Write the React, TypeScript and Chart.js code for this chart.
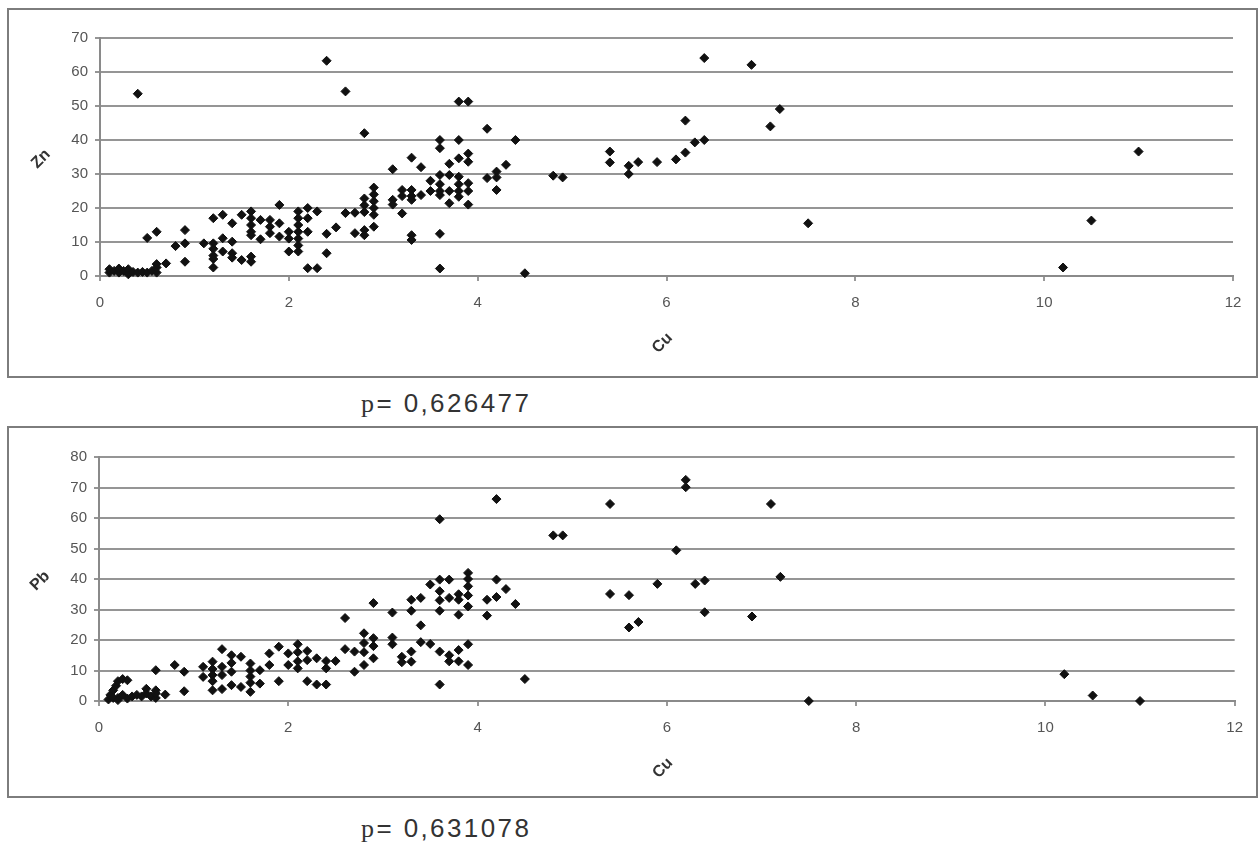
import React, { useEffect, useRef } from "react";
import { Chart, registerables } from "chart.js";

Chart.register(...registerables);

// ---- data ----
const xTickValues = [0, 2, 4, 6, 8, 10, 12];
const znTickValues = [0, 10, 20, 30, 40, 50, 60, 70];
const pbTickValues = [0, 10, 20, 30, 40, 50, 60, 70, 80];

const cuZn: [number, number][] = [
  [0.1, 1], [0.1, 2], [0.15, 1.5], [0.2, 1], [0.2, 2.2], [0.25, 1.5], [0.3, 0.5], [0.3, 2], [0.35, 1.2], [0.4, 1], [0.45, 1.2], [0.5, 1], [0.55, 1.5], [0.6, 1], [0.6, 2.5], [0.6, 3.5],
  [0.4, 53.6], [0.5, 11.2], [0.6, 13], [0.7, 3.7], [0.8, 8.8], [0.9, 13.5], [0.9, 9.6], [0.9, 4.2],
  [1.1, 9.6], [1.2, 17], [1.2, 9.6], [1.2, 8], [1.2, 6], [1.2, 5], [1.2, 2.5],
  [1.3, 18], [1.3, 11.1], [1.3, 7.2],
  [1.4, 15.5], [1.4, 10.1], [1.4, 6.7], [1.4, 5.4],
  [1.5, 18], [1.5, 4.7],
  [1.6, 19], [1.6, 17], [1.6, 15], [1.6, 13], [1.6, 12], [1.6, 5.7], [1.6, 4.2],
  [1.7, 16.5], [1.7, 10.8],
  [1.8, 16.5], [1.8, 14.5], [1.8, 12.6],
  [1.9, 20.9], [1.9, 15.5], [1.9, 11.6],
  [2.0, 13], [2.0, 11], [2.0, 7.2],
  [2.1, 19], [2.1, 17], [2.1, 15], [2.1, 13], [2.1, 11], [2.1, 9], [2.1, 7.2],
  [2.2, 20], [2.2, 17], [2.2, 13], [2.2, 2.3],
  [2.3, 19], [2.3, 2.3],
  [2.4, 63.3], [2.4, 12.4], [2.4, 6.7],
  [2.5, 14.3],
  [2.6, 54.3], [2.6, 18.5],
  [2.7, 18.6], [2.7, 12.6],
  [2.8, 42], [2.8, 22.8], [2.8, 20.8], [2.8, 18.8], [2.8, 13.5], [2.8, 12],
  [2.9, 26], [2.9, 24], [2.9, 22], [2.9, 20], [2.9, 18], [2.9, 14.5],
  [3.1, 31.4], [3.1, 22.4], [3.1, 21],
  [3.2, 25.3], [3.2, 23.5], [3.2, 18.4],
  [3.3, 34.8], [3.3, 25.3], [3.3, 23.5], [3.3, 22.4], [3.3, 12], [3.3, 10.6],
  [3.4, 32], [3.4, 23.8],
  [3.5, 28], [3.5, 25],
  [3.6, 40], [3.6, 37.6], [3.6, 29.7], [3.6, 27], [3.6, 25], [3.6, 23.8], [3.6, 12.4], [3.6, 2.2],
  [3.7, 33], [3.7, 29.7], [3.7, 25], [3.7, 21.4],
  [3.8, 51.3], [3.8, 40], [3.8, 34.6], [3.8, 29.2], [3.8, 27], [3.8, 25], [3.8, 23.3],
  [3.9, 51.3], [3.9, 36], [3.9, 33.6], [3.9, 27.3], [3.9, 25], [3.9, 21],
  [4.1, 43.3], [4.1, 28.8],
  [4.2, 30.7], [4.2, 29], [4.2, 25.3],
  [4.3, 32.7], [4.4, 40], [4.5, 0.8], [4.8, 29.5], [4.9, 29],
  [5.4, 36.6], [5.4, 33.4], [5.6, 32.4], [5.6, 30], [5.7, 33.5], [5.9, 33.5], [6.1, 34.3],
  [6.2, 36.3], [6.2, 45.7], [6.3, 39.3], [6.4, 40], [6.4, 64.1], [6.9, 62.1], [7.1, 44],
  [7.2, 49.1], [7.5, 15.5], [10.2, 2.5], [10.5, 16.3], [11.0, 36.6],
];

const cuPb: [number, number][] = [
  [0.1, 0.5], [0.12, 2], [0.15, 3.5], [0.18, 5], [0.2, 6.5], [0.25, 7.2], [0.3, 6.8], [0.2, 1], [0.25, 2], [0.3, 0.8],
  [0.35, 1.5], [0.4, 2], [0.45, 1.5], [0.5, 2.5], [0.5, 4], [0.55, 1.5], [0.6, 3.5], [0.6, 1], [0.6, 2.5], [0.15, 1], [0.2, 0.3],
  [0.6, 10.1], [0.7, 2.1], [0.8, 11.8], [0.9, 9.6], [0.9, 3.2],
  [1.1, 11.2], [1.1, 7.9],
  [1.2, 12.9], [1.2, 10.5], [1.2, 8.5], [1.2, 6.5], [1.2, 3.5],
  [1.3, 17], [1.3, 11.2], [1.3, 8.5], [1.3, 3.9],
  [1.4, 15], [1.4, 12.5], [1.4, 9.6], [1.4, 5.2],
  [1.5, 14.5], [1.5, 4.6],
  [1.6, 12.3], [1.6, 10], [1.6, 8], [1.6, 6], [1.6, 3],
  [1.7, 10.1], [1.7, 5.7],
  [1.8, 15.6], [1.8, 11.8],
  [1.9, 17.8], [1.9, 6.5],
  [2.0, 15.6], [2.0, 11.8],
  [2.1, 18.6], [2.1, 16], [2.1, 13], [2.1, 10.7],
  [2.2, 16.4], [2.2, 13.4], [2.2, 6.5],
  [2.3, 14], [2.3, 5.4],
  [2.4, 13.1], [2.4, 10.7], [2.4, 5.4],
  [2.5, 13.1],
  [2.6, 27.2], [2.6, 17],
  [2.7, 16.2], [2.7, 9.6],
  [2.8, 22.2], [2.8, 19], [2.8, 16], [2.8, 11.8],
  [2.9, 32.1], [2.9, 20.6], [2.9, 18], [2.9, 14],
  [3.1, 29], [3.1, 20.8], [3.1, 18.6],
  [3.2, 14.5], [3.2, 12.7],
  [3.3, 33.2], [3.3, 29.6], [3.3, 16.2], [3.3, 12.9],
  [3.4, 33.8], [3.4, 24.8], [3.4, 19.3],
  [3.5, 38.2], [3.5, 18.7],
  [3.6, 59.6], [3.6, 39.8], [3.6, 36], [3.6, 33], [3.6, 29.6], [3.6, 16.2], [3.6, 5.4],
  [3.7, 39.8], [3.7, 33.8], [3.7, 15], [3.7, 13],
  [3.8, 35], [3.8, 33.2], [3.8, 28.3], [3.8, 16.7], [3.8, 13],
  [3.9, 42], [3.9, 40], [3.9, 37.6], [3.9, 34.6], [3.9, 31], [3.9, 18.6], [3.9, 11.8],
  [4.1, 33.2], [4.1, 28],
  [4.2, 66.2], [4.2, 39.8], [4.2, 34.1],
  [4.3, 36.7], [4.4, 31.8], [4.5, 7.2], [4.8, 54.3], [4.9, 54.3],
  [5.4, 64.6], [5.4, 35.1], [5.6, 34.7], [5.6, 24.1], [5.7, 25.9], [5.9, 38.4], [6.1, 49.4],
  [6.2, 72.5], [6.2, 70.1], [6.3, 38.4], [6.4, 39.5], [6.4, 29.1], [6.9, 27.7], [7.1, 64.6],
  [7.2, 40.7], [7.5, 0], [10.2, 8.8], [10.5, 1.8], [11.0, 0],
];

const pTop = "0,626477";
const pBottom = "0,631078";

type Rect = { left: number; top: number; width: number; height: number };
type Area = { left: number; right: number; top: number; bottom: number };

const FONT = '"Liberation Sans", Arial, sans-serif';

function ScatterPanel(props: {
  points: [number, number][];
  yTicks: number[];
  yTitle: string;
  xTitle: string;
  box: Rect;
  area: Area;
}) {
  const { points, yTicks, yTitle, xTitle, box, area } = props;
  const ref = useRef<HTMLCanvasElement | null>(null);
  const cl = box.left + 2;
  const ct = box.top + 2;
  const cw = box.width - 4;
  const ch = box.height - 4;

  useEffect(() => {
    const YW = 40;
    const XH = 40;
    const titlePlugin = {
      id: "rotTitles",
      afterDraw(chart: any) {
        const { ctx, chartArea } = chart;
        ctx.save();
        ctx.font = `bold 16px ${FONT}`;
        ctx.fillStyle = "#333";
        ctx.textAlign = "center";
        ctx.textBaseline = "middle";
        ctx.save();
        ctx.translate(chartArea.left - 59, (chartArea.top + chartArea.bottom) / 2 + 2);
        ctx.rotate(-Math.PI / 4);
        ctx.fillText(yTitle, 0, 0);
        ctx.restore();
        ctx.save();
        ctx.translate((chartArea.left + chartArea.right) / 2 - 4, chartArea.bottom + 67);
        ctx.rotate(-Math.PI / 4);
        ctx.fillText(xTitle, 0, 0);
        ctx.restore();
        ctx.restore();
      },
    };
    const chart = new Chart(ref.current as HTMLCanvasElement, {
      type: "scatter",
      data: {
        datasets: [
          {
            data: points.map(([x, y]) => ({ x, y })),
            pointStyle: "rectRot",
            pointRadius: 4.5,
            pointBackgroundColor: "#111",
            pointBorderColor: "#111",
            pointBorderWidth: 1,
            clip: false as any,
          },
        ],
      },
      options: {
        responsive: false,
        maintainAspectRatio: false,
        animation: false,
        layout: {
          padding: {
            left: area.left - cl - YW,
            right: cl + cw - area.right,
            top: area.top - ct,
            bottom: ct + ch - area.bottom - XH,
          },
        },
        plugins: { legend: { display: false }, tooltip: { enabled: false } },
        scales: {
          x: {
            type: "linear",
            min: xTickValues[0],
            max: xTickValues[xTickValues.length - 1],
            afterFit: (s: any) => {
              s.height = XH;
            },
            afterBuildTicks: (s: any) => {
              s.ticks = xTickValues.map((v) => ({ value: v }));
            },
            ticks: {
              color: "#555",
              font: { family: FONT, size: 15 },
              padding: 13,
              maxRotation: 0,
            },
            grid: { drawOnChartArea: false, drawTicks: true, tickLength: 5, color: "#999", lineWidth: 2 },
            border: { display: true, color: "#8a8a8a", width: 2 },
          },
          y: {
            type: "linear",
            min: yTicks[0],
            max: yTicks[yTicks.length - 1],
            afterFit: (s: any) => {
              s.width = YW;
            },
            afterBuildTicks: (s: any) => {
              s.ticks = yTicks.map((v) => ({ value: v }));
            },
            ticks: {
              color: "#555",
              font: { family: FONT, size: 15 },
              padding: 7,
            },
            grid: { drawOnChartArea: true, drawTicks: true, tickLength: 5, color: "#959595", lineWidth: 2 },
            border: { display: true, color: "#8a8a8a", width: 2 },
          },
        },
      },
      plugins: [titlePlugin],
    });
    return () => chart.destroy();
  }, []);

  return (
    <>
      <div
        style={{
          position: "absolute",
          left: box.left,
          top: box.top,
          width: box.width,
          height: box.height,
          border: "2px solid #7d7d7d",
          boxSizing: "border-box",
          background: "#fff",
        }}
      />
      <canvas
        ref={ref}
        width={cw}
        height={ch}
        style={{ position: "absolute", left: cl, top: ct, width: cw, height: ch }}
      />
    </>
  );
}

function PText({ value, top }: { value: string; top: number }) {
  return (
    <div
      style={{
        position: "absolute",
        left: 361,
        top,
        fontSize: 26,
        lineHeight: "30px",
        color: "#333",
        whiteSpace: "nowrap",
        letterSpacing: 2.4,
      }}
    >
      <span style={{ fontFamily: '"Liberation Serif", serif' }}>p</span>
      <span style={{ fontFamily: FONT }}>= {value}</span>
    </div>
  );
}

export default function App() {
  return (
    <div style={{ position: "fixed", left: 0, top: 0, width: 1259, height: 845, background: "#fff", overflow: "hidden" }}>
      <ScatterPanel
        points={cuZn}
        yTicks={znTickValues}
        yTitle="Zn"
        xTitle="Cu"
        box={{ left: 7, top: 8, width: 1251, height: 370 }}
        area={{ left: 100, right: 1233, top: 38, bottom: 276 }}
      />
      <PText value={pTop} top={388} />
      <ScatterPanel
        points={cuPb}
        yTicks={pbTickValues}
        yTitle="Pb"
        xTitle="Cu"
        box={{ left: 7, top: 426, width: 1251, height: 372 }}
        area={{ left: 99, right: 1235, top: 457, bottom: 701 }}
      />
      <PText value={pBottom} top={813} />
    </div>
  );
}
